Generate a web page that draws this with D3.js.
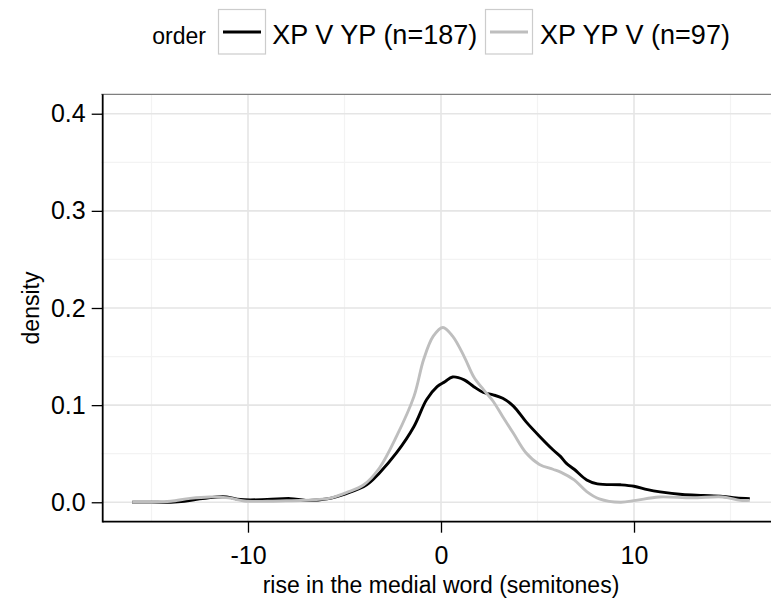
<!DOCTYPE html>
<html><head><meta charset="utf-8">
<script src="https://cdn.jsdelivr.net/npm/d3@7"></script>
<style>
html,body{margin:0;padding:0;background:#fff;}
text{font-family:"Liberation Sans",Arial,sans-serif;fill:#000;}
</style></head>
<body><svg id="c" width="771" height="598"></svg>
<script>
// ---- data ----
const seriesNames = ["XP V YP (n=187)", "XP YP V (n=97)"];
const seriesColors = ["#000000", "#bebebe"];
const legendTitle = "order";
const xTicks = [-10, 0, 10];
const xTickLabels = ["-10", "0", "10"];
const yTicks = [0.0, 0.1, 0.2, 0.3, 0.4];
const yTickLabels = ["0.0", "0.1", "0.2", "0.3", "0.4"];
const xLabel = "rise in the medial word (semitones)";
const yLabel = "density";

const xBlack = [-16,-15,-14,-13.3,-12.5,-11.6,-11.1,-10.4,-9,-7.8,-7,-5.9,-4.9,-3.85,-3.2,-2.3,-1.4,-0.75,-0.2,0.2,0.6,1.2,1.7,2.2,2.7,3.2,3.75,4.4,5.1,5.8,6.2,6.5,6.9,7.55,8.1,9.3,10,10.7,11.35,12.5,13.6,14.6,15.3,16];
const yBlack = [0,0,0,0.001,0.0035,0.0055,0.0055,0.0028,0.0028,0.0038,0.002,0.0035,0.009,0.018,0.030,0.051,0.078,0.1055,0.119,0.124,0.129,0.126,0.119,0.113,0.1106,0.107,0.099,0.083,0.068,0.054,0.047,0.040,0.034,0.023,0.019,0.018,0.0165,0.013,0.0107,0.008,0.007,0.006,0.0045,0.0038];

const xGray = [-16,-15,-14,-13,-12,-11,-10.2,-9,-8,-7.3,-6.3,-5.8,-4.9,-4,-3.2,-2.3,-1.4,-0.9,-0.4,0.1,0.6,1.2,1.7,2.2,2.7,3.2,3.75,4.4,5.1,5.8,6.2,6.9,7.55,8.2,9.3,10.1,11.3,13,14.6,15.5,16];
const yGray = [0,0,0.001,0.004,0.0055,0.0045,0.0013,0.001,0.0015,0.0018,0.003,0.004,0.0100,0.018,0.035,0.068,0.109,0.147,0.171,0.180,0.171,0.150,0.129,0.116,0.104,0.088,0.071,0.051,0.039,0.034,0.031,0.023,0.011,0.0035,0.0,0.002,0.0055,0.0045,0.0055,0.002,0.002];

// ---- layout ----
const svg = d3.select("#c");
const L = 101.3, R = 780.7, T = 94.3, B = 521.7;
const x = d3.scaleLinear().domain([-17.6, 17.6]).range([L, R]);
const y = d3.scaleLinear().domain([-0.02, 0.42]).range([B, T]);

const FONT_TICK = 25, FONT_TITLE = 23, FONT_LEG = 27, FONT_LEGT = 23;

// grid
const g = svg.append("g");
const xMinor = [-15, -5, 5, 15], yMinor = [0.05, 0.15, 0.25, 0.35];
g.selectAll(".xm").data(xMinor).join("line")
  .attr("x1", d => x(d)).attr("x2", d => x(d)).attr("y1", T).attr("y2", B)
  .attr("stroke", "#f3f3f3").attr("stroke-width", 1.2);
g.selectAll(".ym").data(yMinor).join("line")
  .attr("x1", L).attr("x2", R).attr("y1", d => y(d)).attr("y2", d => y(d))
  .attr("stroke", "#f3f3f3").attr("stroke-width", 1.2);
g.selectAll(".xM").data(xTicks).join("line")
  .attr("x1", d => x(d)).attr("x2", d => x(d)).attr("y1", T).attr("y2", B)
  .attr("stroke", "#e5e5e5").attr("stroke-width", 1.6);
g.selectAll(".yM").data(yTicks).join("line")
  .attr("x1", L).attr("x2", R).attr("y1", d => y(d)).attr("y2", d => y(d))
  .attr("stroke", "#e5e5e5").attr("stroke-width", 1.6);

// panel top border
svg.append("line").attr("x1", L).attr("x2", R).attr("y1", T).attr("y2", T)
  .attr("stroke", "#7f7f7f").attr("stroke-width", 1.2);

// curves
const line = d3.line().x(d => x(d[0])).y(d => y(d[1])).curve(d3.curveCatmullRom.alpha(0.5));
const dataSets = [d3.zip(xBlack, yBlack), d3.zip(xGray, yGray)];
svg.append("g").selectAll("path").data(dataSets).join("path")
  .attr("d", line).attr("fill", "none")
  .attr("stroke", (d, i) => seriesColors[i]).attr("stroke-width", 2.9)
  .attr("stroke-linejoin", "round");

// axes
const xAxis = d3.axisBottom(x).tickValues(xTicks).tickSize(11).tickPadding(4)
  .tickFormat((d, i) => xTickLabels[i]);
const yAxis = d3.axisLeft(y).tickValues(yTicks).tickSize(11).tickPadding(6)
  .tickFormat((d, i) => yTickLabels[i]);
const gx = svg.append("g").attr("transform", `translate(0,${B})`).call(xAxis);
const gy = svg.append("g").attr("transform", `translate(${L + 1.4},0)`).call(yAxis);
[gx, gy].forEach(a => {
  a.select(".domain").remove();
  a.selectAll(".tick line").attr("stroke", "#000").attr("stroke-width", 1.3);
  a.selectAll("text").attr("font-size", FONT_TICK).attr("font-family", '"Liberation Sans",Arial,sans-serif').attr("fill", "#000");
});
gx.selectAll("text").attr("dy", null).attr("y", 42.5);
// axis lines
svg.append("line").attr("x1", L + 1.4).attr("x2", R).attr("y1", B).attr("y2", B)
  .attr("stroke", "#000").attr("stroke-width", 1.8);
svg.append("line").attr("x1", L + 1.4).attr("x2", L + 1.4).attr("y1", T).attr("y2", B + 0.9)
  .attr("stroke", "#000").attr("stroke-width", 1.8);

// titles
svg.append("text").attr("x", (L + R) / 2).attr("y", 593).attr("text-anchor", "middle")
  .attr("font-size", FONT_TITLE).text(xLabel);
svg.append("text").attr("transform", `translate(38.5,${(T + B) / 2}) rotate(-90)`)
  .attr("text-anchor", "middle").attr("font-size", FONT_TITLE).text(yLabel);

// legend
const leg = svg.append("g");
leg.append("text").attr("x", 152.3).attr("y", 44.3).attr("font-size", FONT_LEGT).text(legendTitle);
const keyX = [218.5, 485.5], labX = [272.3, 540];
seriesNames.forEach((s, i) => {
  leg.append("rect").attr("x", keyX[i]).attr("y", 9.5).attr("width", 47).attr("height", 44.5)
    .attr("fill", "#fff").attr("stroke", "#cccccc").attr("stroke-width", 1.2);
  leg.append("line").attr("x1", keyX[i] + 4.5).attr("x2", keyX[i] + 42.5)
    .attr("y1", 32).attr("y2", 32).attr("stroke", seriesColors[i]).attr("stroke-width", 2.9);
  leg.append("text").attr("x", labX[i]).attr("y", 44.3).attr("font-size", FONT_LEG).text(s);
});
</script></body></html>
